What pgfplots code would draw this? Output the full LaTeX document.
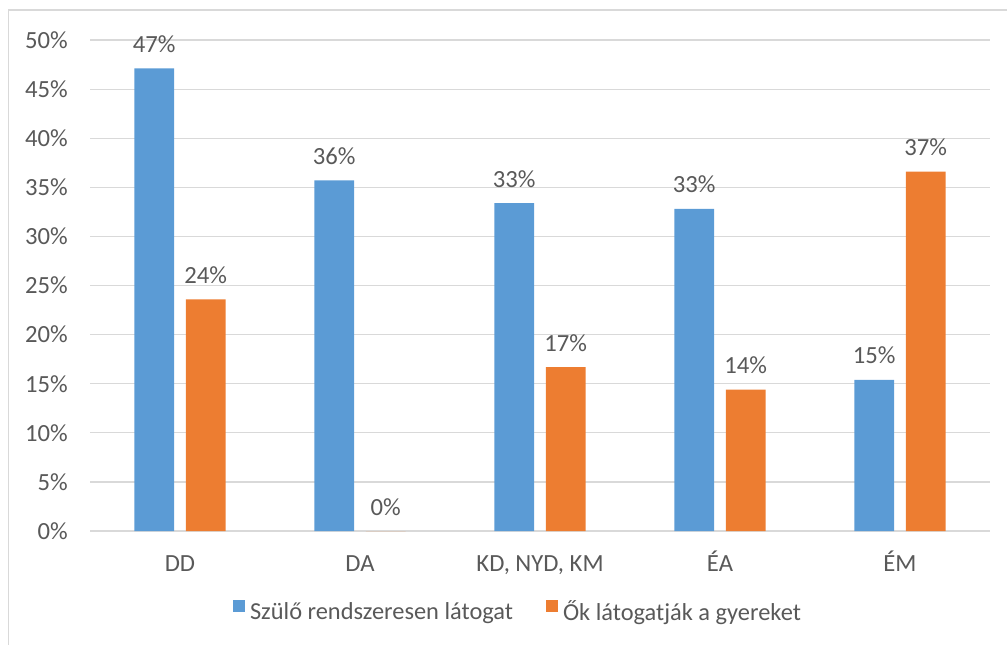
\documentclass[border=0pt]{standalone}
\usepackage{pgfplots}
\pgfplotsset{compat=1.18}
\usepackage{fontspec}
\setmainfont{Carlito}
\definecolor{cblue}{HTML}{5B9BD5}
\definecolor{corange}{HTML}{ED7D31}
\definecolor{ctext}{HTML}{595959}
\definecolor{cgrid}{HTML}{D9D9D9}
\begin{document}
\begin{tikzpicture}
\useasboundingbox (0pt,0pt) rectangle (755.25pt,483pt);
\draw[cgrid, line width=1.1pt] (6.4pt,-2pt) -- (6.4pt,475.5pt) -- (760pt,475.5pt);
\begin{axis}[
  at={(67.5pt,84.75pt)}, anchor=south west,
  scale only axis, width=675pt, height=368.25pt,
  xmin=-0.5, xmax=4.5, ymin=0, ymax=50,
  xtick={0,1,2,3,4},
  xticklabels={DD,DA,{KD, NYD, KM},ÉA,ÉM},
  ytick={0,5,...,50},
  yticklabel={\pgfmathprintnumber{\tick}\%},
  /pgf/number format/assume math mode=true,
  major tick length=0pt,
  axis line style={draw=none},
  ymajorgrids,
  grid style={cgrid, line width=0.9pt},
  tick label style={font=\fontsize{18.5}{20}\selectfont, text=ctext},
  yticklabel style={anchor=east, inner sep=0pt, xshift=-16.5pt},
  xticklabel style={anchor=base, inner sep=0pt, yshift=-30pt},
  ybar, bar width=0.222,
  nodes near coords={\pgfmathprintnumber[fixed,precision=0]{\pgfplotspointmeta}\%},
  every node near coord/.append style={font=\fontsize{18.5}{20}\selectfont, text=ctext, anchor=base, inner sep=0pt, yshift=12pt},
  legend columns=2,
  legend style={draw=none, fill=none, inner sep=0pt, at={(0.159,-0.163)}, anchor=west,
    font=\fontsize{18.3}{20}\selectfont, text=ctext,
    nodes={inner sep=0pt},
    /tikz/every odd column/.append style={column sep=3.5pt},
    /tikz/every even column/.append style={column sep=25pt}},
  legend image code/.code={\fill[#1] (0pt,0pt) rectangle (9pt,9pt);},
]
\addplot[fill=cblue, draw=none, bar shift=-0.143] coordinates {(0,47.1) (1,35.7) (2,33.4) (3,32.8) (4,15.4)};
\addplot[fill=corange, draw=none, bar shift=0.143] coordinates {(0,23.6) (1,0) (2,16.7) (3,14.4) (4,36.6)};
\legend{Szülő rendszeresen látogat, Ők látogatják a gyereket}
\end{axis}
\end{tikzpicture}
\end{document}
